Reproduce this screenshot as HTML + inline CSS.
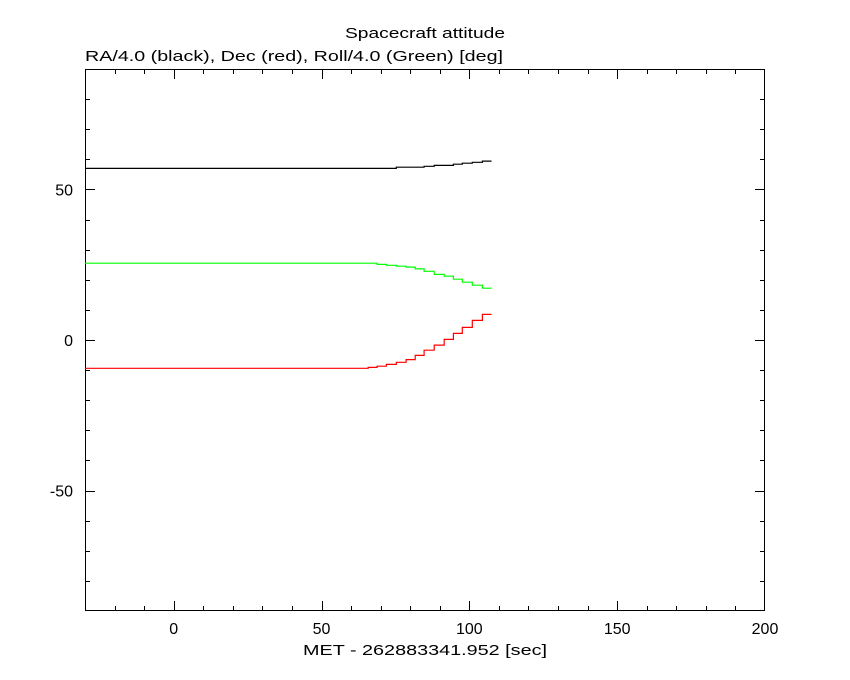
<!DOCTYPE html>
<html><head><meta charset="utf-8"><style>
html,body{margin:0;padding:0;background:#fff;}
svg{display:block;font-family:"Liberation Sans",sans-serif;}
</style></head><body>
<svg id="chart" width="850" height="680">
<text x="345" y="38" font-size="15" textLength="160" lengthAdjust="spacingAndGlyphs">Spacecraft attitude</text>
<text x="85" y="61" font-size="15" textLength="418" lengthAdjust="spacingAndGlyphs">RA/4.0 (black), Dec (red), Roll/4.0 (Green) [deg]</text>
<text x="303" y="655" font-size="15" textLength="244" lengthAdjust="spacingAndGlyphs">MET - 262883341.952 [sec]</text>
<rect x="85.5" y="69.5" width="679" height="541" fill="none" stroke="#000" stroke-width="1"/>
<g id="ticks"></g>
<g id="series"></g>
</svg>
<script>
const xMin=-30,xMax=200,yMin=-90,yMax=90;
const stepTimes=[-30,65.8,68.8,71.9,75.3,78.6,81.7,84.7,88.1,91.5,94.6,97.6,101.0,104.4];
const endTime=107.5;
const raValues=[57.0,57.0,57.0,57.0,57.4,57.4,57.4,57.7,58.0,58.0,58.4,58.7,59.0,59.4];
const decValues=[-9.4,-9.1,-8.7,-8.1,-7.4,-6.5,-5.1,-3.4,-1.7,0.2,2.2,4.2,6.5,8.5];
const rollValues=[25.5,25.5,25.1,24.8,24.5,24.2,23.6,22.8,21.8,21.2,20.2,19.2,18.2,17.2];
const xTickLabels=[0,50,100,150,200];
const yTickLabels=[-50,0,50];
const L=85,R=765,T=69,B=611;
function sx(t){return L+(t-xMin)/(xMax-xMin)*(R-L);}
function sy(v){return T+(yMax-v)/(yMax-yMin)*(B-T);}
const NS='http://www.w3.org/2000/svg';
const svg=document.getElementById('chart');
const tg=document.getElementById('ticks');
const sg=document.getElementById('series');
function line(x1,y1,x2,y2){const l=document.createElementNS(NS,'line');l.setAttribute('x1',x1);l.setAttribute('y1',y1);l.setAttribute('x2',x2);l.setAttribute('y2',y2);l.setAttribute('stroke','#000');tg.appendChild(l);}
for(let t=-20;t<200;t+=10){const x=Math.round(sx(t))+0.5;const len=(t%50===0)?10:5;line(x,B,x,B-len);line(x,T,x,T+len);}
for(let v=-80;v<90;v+=10){const y=Math.round(sy(v))+0.5;const len=(v%50===0)?10:5;line(L,y,L+len,y);line(R,y,R-len,y);}
xTickLabels.forEach(v=>{const t=document.createElementNS(NS,'text');


t.setAttribute('x',sx(v));t.setAttribute('y',634);t.setAttribute('text-anchor','middle');t.setAttribute('font-size','16');t.textContent=v;svg.appendChild(t);});
yTickLabels.forEach(v=>{const t=document.createElementNS(NS,'text');


t.setAttribute('x',73);t.setAttribute('y',sy(v)+6);t.setAttribute('text-anchor','end');t.setAttribute('font-size','16');t.textContent=v;svg.appendChild(t);});
function stepPath(vals,color,name){let d='';for(let i=0;i<vals.length;i++){const x0=sx(stepTimes[i]),x1=sx(i+1<stepTimes.length?stepTimes[i+1]:endTime),y=sy(vals[i]);d+=(i===0?'M':'L')+x0.toFixed(1)+','+y.toFixed(1)+'L'+x1.toFixed(1)+','+y.toFixed(1);}
const p=document.createElementNS(NS,'path');


p.setAttribute('d',d);p.setAttribute('fill','none');p.setAttribute('stroke',color);p.setAttribute('stroke-width','1.2');sg.appendChild(p);}
stepPath(raValues,'#000','ra-line');
stepPath(rollValues,'#00ff00','roll-line');
stepPath(decValues,'#ff0000','dec-line');
</script>
</body></html>
